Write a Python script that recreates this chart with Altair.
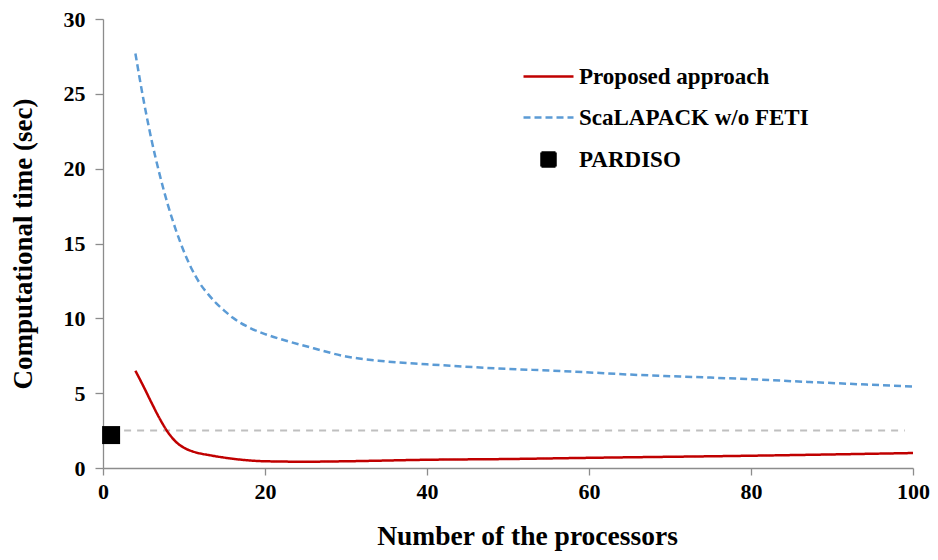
import altair as alt
import pandas as pd

# ---- data ----
series_names = ["Proposed approach", "ScaLAPACK w/o FETI", "PARDISO"]
series_colors = ["#C00000", "#5B9BD5", "#000000"]
series_fills = ["transparent", "transparent", "#000000"]

proc_proposed = [4, 5, 6, 7, 8, 9, 10, 11, 12, 13, 16, 20, 25, 30, 40, 50, 60, 80, 100]
time_proposed = [6.5, 5.45, 4.35, 3.3, 2.4, 1.75, 1.35, 1.12, 0.97, 0.87, 0.62, 0.45, 0.42, 0.45,
                 0.55, 0.6, 0.68, 0.82, 1.0]

proc_scalapack = [4, 5, 6, 7, 8, 9, 10, 11, 12, 13, 14, 15, 16, 18, 20, 22, 26, 30, 34, 40, 46, 58,
                  66, 75, 80, 87, 100]
time_scalapack = [27.7, 24.6, 21.9, 19.6, 17.6, 15.9, 14.45, 13.25, 12.3, 11.6, 11.0, 10.5, 10.05,
                  9.4, 8.95, 8.6, 8.0, 7.45, 7.17, 6.93, 6.73, 6.44, 6.22, 6.04, 5.93, 5.75, 5.44]

proc_pardiso = [1]
time_pardiso = [2.2]

ref_proc = [1]
ref_proc_end = [99]
ref_time = [2.5]

x_ticks = [0, 20, 40, 60, 80, 100]
y_ticks = [0, 5, 10, 15, 20, 25, 30]

# ---- tables ----
lines_df = pd.concat([
    pd.DataFrame({"proc": proc_proposed, "time": time_proposed, "series": series_names[0]}),
    pd.DataFrame({"proc": proc_scalapack, "time": time_scalapack, "series": series_names[1]}),
])
pardiso_df = pd.DataFrame({"proc": proc_pardiso, "time": time_pardiso, "series": series_names[2]})
ref_df = pd.DataFrame({"proc": ref_proc, "proc2": ref_proc_end, "time": ref_time})

x_scale = alt.Scale(domain=[0, 100], nice=False)
y_scale = alt.Scale(domain=[0, 30], nice=False)

x_axis = alt.Axis(values=x_ticks, title="Number of the processors", tickSize=7, labelFlush=False,
                  labelPadding=6, titlePadding=20, titleFontSize=27.5, titleX=424, format="d")
y_axis = alt.Axis(values=y_ticks, title="Computational time (sec)", tickSize=8, labelFlush=False,
                  labelPadding=10, titlePadding=26, titleFontSize=27, format="d")

stroke_scale = alt.Scale(domain=series_names, range=series_colors)
fill_scale = alt.Scale(domain=series_names, range=series_fills)
dash_scale = alt.Scale(domain=series_names, range=[[1, 0], [7, 4], [1, 0]])
line_path = "M-2.5,0H2.5"
square_path = "M-0.7,-0.7H0.7V0.7H-0.7Z"
shape_scale = alt.Scale(domain=series_names, range=[line_path, line_path, square_path])

legend = alt.Legend(
    title=None, orient="none", legendX=434, legendY=46, padding=0,
    labelFont="Liberation Serif", labelFontSize=23, labelFontWeight="bold", labelColor="black",
    labelLimit=500, symbolSize=400, symbolStrokeWidth=2.5, rowPadding=17, labelOffset=19,
)

ref = alt.Chart(ref_df).mark_rule(color="#BFBFBF", strokeDash=[7, 6], strokeWidth=2).encode(
    x=alt.X("proc:Q", scale=x_scale, axis=x_axis),
    x2="proc2:Q",
    y=alt.Y("time:Q", scale=y_scale, axis=y_axis),
)

lines = alt.Chart(lines_df).mark_line(strokeWidth=2.5, interpolate="monotone").encode(
    x=alt.X("proc:Q", scale=x_scale, axis=x_axis),
    y=alt.Y("time:Q", scale=y_scale, axis=y_axis),
    stroke=alt.Stroke("series:N", scale=stroke_scale, legend=legend, sort=series_names),
    strokeDash=alt.StrokeDash("series:N", scale=dash_scale, legend=legend, sort=series_names),
)

# layer that carries the legend's symbol shapes/fills (hidden under the PARDISO square)
legend_layer = alt.Chart(pardiso_df).mark_point(size=400, opacity=1).encode(
    x=alt.X("proc:Q", scale=x_scale, axis=x_axis),
    y=alt.Y("time:Q", scale=y_scale, axis=y_axis),
    stroke=alt.Stroke("series:N", scale=stroke_scale, legend=legend, sort=series_names),
    fill=alt.Fill("series:N", scale=fill_scale, legend=legend, sort=series_names),
    shape=alt.Shape("series:N", scale=shape_scale, legend=legend, sort=series_names),
    strokeDash=alt.StrokeDash("series:N", scale=dash_scale, legend=legend, sort=series_names),
)

square = alt.Chart(pardiso_df).mark_square(size=324, opacity=1, filled=True, color="black").encode(
    x=alt.X("proc:Q", scale=x_scale, axis=x_axis),
    y=alt.Y("time:Q", scale=y_scale, axis=y_axis),
)

chart = alt.layer(ref, lines, legend_layer, square).properties(
    width=810, height=449,
    autosize=alt.AutoSizeParams(type="none"),
    padding={"left": 95, "top": 11, "right": 17, "bottom": 84},
).configure_view(stroke=None).configure_axis(
    labelFont="Liberation Serif", labelFontWeight="bold", labelFontSize=22, labelColor="black",
    titleFont="Liberation Serif", titleFontWeight="bold", titleColor="black",
    domainColor="#8C8C8C", tickColor="#8C8C8C", domainWidth=1.3, tickWidth=1.3, grid=False,
)

chart.save("out.html", embed_options={"renderer": "svg", "actions": False})
